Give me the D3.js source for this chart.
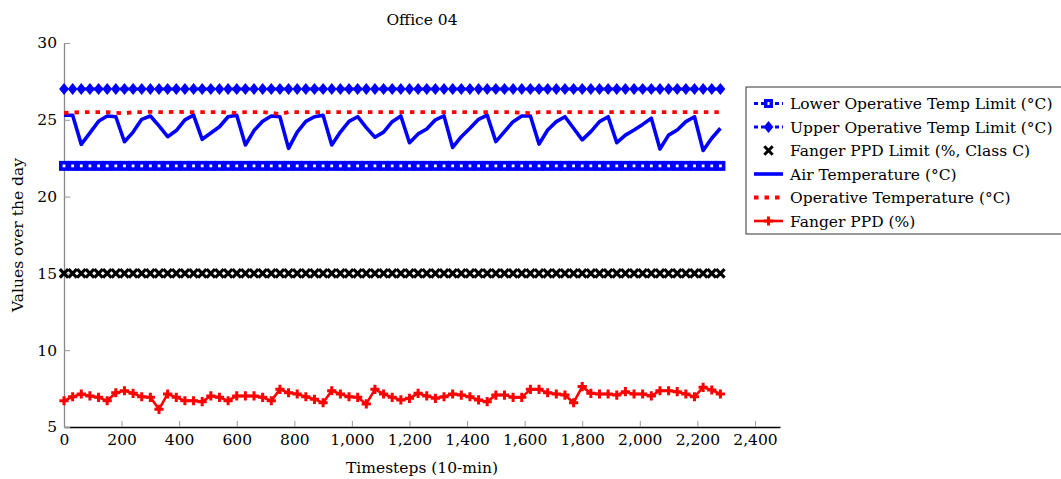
<!DOCTYPE html>
<html>
<head>
<meta charset="utf-8">
<script src="https://cdn.jsdelivr.net/npm/d3@7"></script>
<style>
  body { margin: 0; background: #fff; }
  svg { display: block; font-family: "DejaVu Serif", serif; }
</style>
</head>
<body>
<div id="chart"></div>
<script>
// timesteps are sampled every 30 steps (10-min resolution)
const steps = d3.range(0, 2281, 30)

const airTemp = [
  25.3, 25.3, 23.4, 24.15, 24.9, 25.25, 25.2, 23.57, 24.2, 25.03,
  25.25, 24.6, 23.9, 24.3, 25.0, 25.3, 23.73, 24.14, 24.55, 25.2,
  25.3, 23.36, 24.3, 24.9, 25.25, 25.2, 23.14, 24.2, 24.9, 25.2,
  25.3, 23.36, 24.2, 24.9, 25.2, 24.49, 23.86, 24.2, 24.88, 25.25,
  23.51, 24.08, 24.4, 25.0, 25.25, 23.2, 23.9, 24.45, 25.03, 25.3,
  23.58, 24.23, 24.88, 25.25, 25.25, 23.42, 24.34, 24.88, 25.2, 24.45,
  23.69, 24.23, 24.88, 25.2, 23.51, 24.0, 24.34, 24.7, 25.1, 23.1,
  24.0, 24.34, 24.88, 25.2, 23.0, 23.8, 24.45
]

const operativeTemp = [
  25.45, 25.47, 25.5, 25.5, 25.5, 25.5, 25.45, 25.42, 25.5, 25.5,
  25.52, 25.5, 25.5, 25.52, 25.5, 25.5, 25.5, 25.5, 25.5, 25.48,
  25.45, 25.5, 25.5, 25.5, 25.45, 25.37, 25.5, 25.5, 25.5, 25.5,
  25.5, 25.5, 25.5, 25.5, 25.5, 25.5, 25.5, 25.5, 25.5, 25.5,
  25.5, 25.5, 25.5, 25.5, 25.5, 25.5, 25.5, 25.5, 25.5, 25.5,
  25.5, 25.5, 25.5, 25.45, 25.43, 25.5, 25.5, 25.5, 25.5, 25.5,
  25.5, 25.5, 25.5, 25.5, 25.5, 25.5, 25.5, 25.5, 25.5, 25.5,
  25.5, 25.5, 25.5, 25.5, 25.5, 25.5, 25.5
]

const fangerPPD = [
  6.71, 6.97, 7.15, 7.02, 6.93, 6.71, 7.23, 7.36, 7.19, 6.97,
  6.93, 6.15, 7.15, 6.93, 6.71, 6.71, 6.65, 7.02, 6.93, 6.71,
  7.02, 7.02, 7.02, 6.93, 6.71, 7.45, 7.23, 7.15, 6.97, 6.8,
  6.58, 7.36, 7.15, 6.97, 6.93, 6.5, 7.45, 7.15, 6.93, 6.76,
  6.87, 7.19, 7.02, 6.87, 6.97, 7.15, 7.08, 6.97, 6.76, 6.65,
  7.08, 7.08, 6.93, 6.93, 7.45, 7.45, 7.23, 7.15, 7.08, 6.58,
  7.63, 7.19, 7.15, 7.15, 7.08, 7.3, 7.15, 7.15, 7.02, 7.36,
  7.36, 7.3, 7.15, 6.97, 7.58, 7.41, 7.15
]

const lowerLimit = 22
const upperLimit = 27
const ppdLimit = 15

const yTicks = [5, 10, 15, 20, 25, 30]
const xTicks = [0, 200, 400, 600, 800, 1000, 1200, 1400, 1600, 1800, 2000, 2200, 2400]

const legendLabels = [
  "Lower Operative Temp Limit (°C)",
  "Upper Operative Temp Limit (°C)",
  "Fanger PPD Limit (%, Class C)",
  "Air Temperature (°C)",
  "Operative Temperature (°C)",
  "Fanger PPD (%)"
]

const width = 1061, height = 479
const margin = { top: 43, right: 281, bottom: 52, left: 64 }

const svg = d3.select("#chart").append("svg")
  .attr("width", width)
  .attr("height", height)

svg.append("rect").attr("width", width).attr("height", height).attr("fill", "#fff")

const x = d3.scaleLinear().domain([0, 2487]).range([margin.left, width - margin.right])
const y = d3.scaleLinear().domain([5, 30]).range([height - margin.bottom, margin.top])

// custom marker shapes
const diamond = {
  draw(ctx, size) {
    const w = 4.9, h = 6
    ctx.moveTo(0, -h); ctx.lineTo(w, 0); ctx.lineTo(0, h); ctx.lineTo(-w, 0); ctx.closePath()
  }
}
const crossX = 4.2, plus = 4.6

const line = d3.line().x((d, i) => x(steps[i])).y(d => y(d))
const flat = v => steps.map(() => v)

// axes
const xAxis = d3.axisBottom(x).tickValues(xTicks).tickFormat(d3.format(",")).tickSizeInner(-6).tickSizeOuter(0).tickPadding(7)
const yAxis = d3.axisLeft(y).tickValues(yTicks).tickSizeInner(-6).tickSizeOuter(0).tickPadding(7)

const gx = svg.append("g").attr("transform", `translate(0,${y(5)})`).call(xAxis)
gx.select(".domain").attr("stroke", "#000").attr("stroke-width", 1.3)
gx.selectAll(".tick line").attr("stroke", "#999")
gx.selectAll(".tick text").attr("font-size", 15.5).attr("font-family", "DejaVu Serif").attr("fill", "#000")

const gy = svg.append("g").attr("transform", `translate(${x(0)},0)`).call(yAxis)
gy.select(".domain").attr("stroke", "#888").attr("stroke-width", 1.3)
gy.selectAll(".tick line").attr("stroke", "#999")
gy.selectAll(".tick text").attr("font-size", 15.5).attr("font-family", "DejaVu Serif").attr("fill", "#000")

// lower limit: dashed line + square markers
const plot = svg.append("g")
plot.append("path").attr("d", line(flat(lowerLimit))).attr("fill", "none")
  .attr("stroke", "#00f").attr("stroke-width", 3).attr("stroke-dasharray", "4,3")
plot.append("g").selectAll("rect.sq").data(steps).join("rect")
  .attr("x", d => x(d) - 5).attr("y", y(lowerLimit) - 5)
  .attr("width", 10).attr("height", 10).attr("fill", "#00f")
plot.append("g").selectAll("rect.dot").data(steps).join("rect")
  .attr("x", d => x(d) - 1.4).attr("y", y(lowerLimit) - 1.4)
  .attr("width", 2.8).attr("height", 2.8).attr("fill", "#fff")

// upper limit: diamonds
plot.append("path").attr("d", line(flat(upperLimit))).attr("fill", "none")
  .attr("stroke", "#00f").attr("stroke-width", 3).attr("stroke-dasharray", "4,3")
plot.append("g").selectAll("path").data(steps).join("path")
  .attr("transform", d => `translate(${x(d)},${y(upperLimit)})`)
  .attr("d", d3.symbol(diamond)).attr("fill", "#00f")

// ppd limit: x markers
plot.append("g").selectAll("path").data(steps).join("path")
  .attr("transform", d => `translate(${x(d)},${y(ppdLimit)})`)
  .attr("d", `M${-crossX},${-crossX}L${crossX},${crossX}M${-crossX},${crossX}L${crossX},${-crossX}`)
  .attr("stroke", "#000").attr("stroke-width", 3.2)

// air temperature
plot.append("path").attr("d", line(airTemp)).attr("fill", "none")
  .attr("stroke", "#00f").attr("stroke-width", 3.6).attr("stroke-linejoin", "round")

// operative temperature
plot.append("path").attr("d", line(operativeTemp)).attr("fill", "none")
  .attr("stroke", "#f00").attr("stroke-width", 3.8).attr("stroke-dasharray", "4.5,6")

// fanger PPD
plot.append("path").attr("d", line(fangerPPD)).attr("fill", "none")
  .attr("stroke", "#f00").attr("stroke-width", 2.6).attr("stroke-linejoin", "round")
plot.append("g").selectAll("path").data(fangerPPD).join("path")
  .attr("transform", (d, i) => `translate(${x(steps[i])},${y(d)})`)
  .attr("d", `M${-plus},0H${plus}M0,${-plus}V${plus}`)
  .attr("stroke", "#f00").attr("stroke-width", 3)

// titles
svg.append("text").attr("x", (x(0) + x(2487)) / 2).attr("y", 25)
  .attr("text-anchor", "middle").attr("font-size", 15.5).text("Office 04")
svg.append("text").attr("x", (x(0) + x(2487)) / 2).attr("y", 473)
  .attr("text-anchor", "middle").attr("font-size", 15.5).text("Timesteps (10-min)")
svg.append("text").attr("transform", `translate(23,${(y(5) + y(30)) / 2}) rotate(-90)`)
  .attr("text-anchor", "middle").attr("font-size", 15.5).text("Values over the day")

// legend
const lg = svg.append("g").attr("transform", "translate(746,87)")
lg.append("rect").attr("x", 0).attr("y", 0).attr("width", 330).attr("height", 147)
  .attr("fill", "#fff").attr("stroke", "#333").attr("stroke-width", 1)

const rowY = i => 16.5 + i * 23.5
const sx0 = 8, sx1 = 37, sxm = 22.5

legendLabels.forEach((label, i) => {
  const row = lg.append("g").attr("transform", `translate(0,${rowY(i)})`)
  if (i === 0 || i === 1) {
    row.append("line").attr("x1", sx0).attr("x2", sx1).attr("stroke", "#00f")
      .attr("stroke-width", 3).attr("stroke-dasharray", "4,3")
    if (i === 0) {
      row.append("rect").attr("x", sxm - 4.5).attr("y", -4.5).attr("width", 9).attr("height", 9).attr("fill", "#00f")
      row.append("rect").attr("x", sxm - 1).attr("y", -1.5).attr("width", 2).attr("height", 3).attr("fill", "#fff")
    } else {
      row.append("path").attr("transform", `translate(${sxm},0)`).attr("d", d3.symbol(diamond)).attr("fill", "#00f")
    }
  } else if (i === 2) {
    row.append("path").attr("transform", `translate(${sxm},0)`)
      .attr("d", `M${-crossX},${-crossX}L${crossX},${crossX}M${-crossX},${crossX}L${crossX},${-crossX}`)
      .attr("stroke", "#000").attr("stroke-width", 3)
  } else if (i === 3) {
    row.append("line").attr("x1", sx0).attr("x2", sx1).attr("stroke", "#00f").attr("stroke-width", 3.6)
  } else if (i === 4) {
    row.append("line").attr("x1", sx0).attr("x2", sx1).attr("stroke", "#f00")
      .attr("stroke-width", 3.8).attr("stroke-dasharray", "4.5,6")
  } else {
    row.append("line").attr("x1", sx0).attr("x2", sx1).attr("stroke", "#f00").attr("stroke-width", 2.6)
    row.append("path").attr("transform", `translate(${sxm},0)`)
      .attr("d", `M${-plus},0H${plus}M0,${-plus}V${plus}`)
      .attr("stroke", "#f00").attr("stroke-width", 3)
  }
  row.append("text").attr("x", 44).attr("y", 5.5).attr("font-size", 15.5).text(label)
})
</script>
</body>
</html>
